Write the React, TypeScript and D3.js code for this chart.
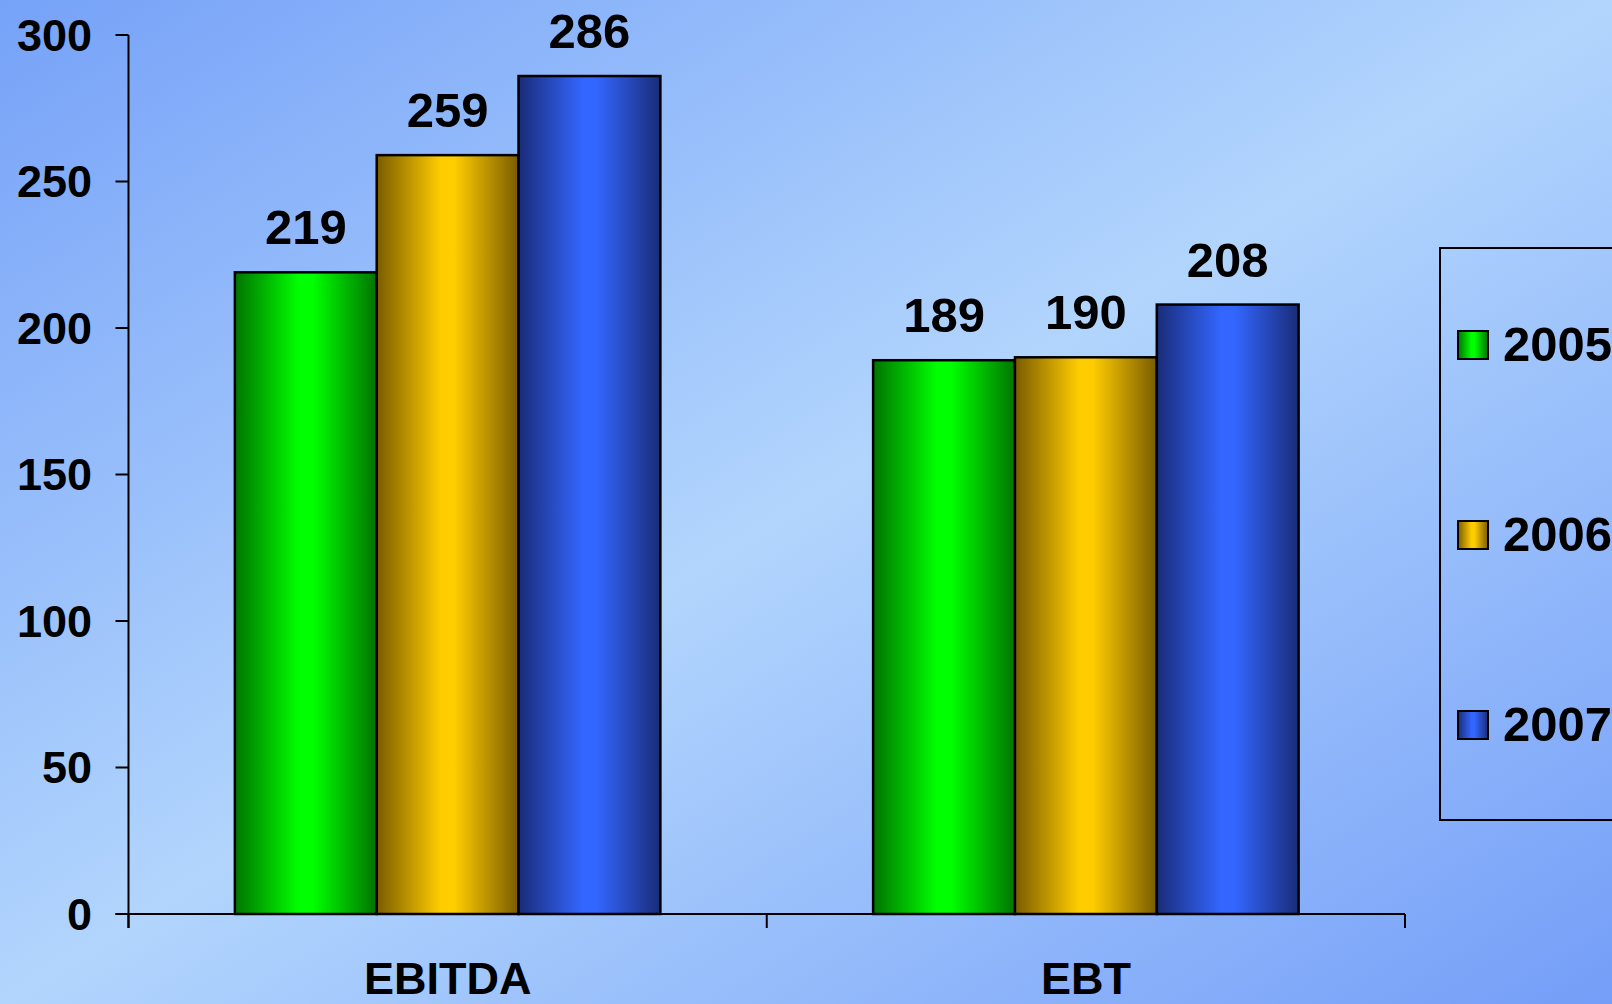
import React from "react";
import * as d3 from "d3";

const categories = ["EBITDA", "EBT"];
const seriesNames = ["2005", "2006", "2007"];
const values2005 = [219, 189];
const values2006 = [259, 190];
const values2007 = [286, 208];
const yTicks = [0, 50, 100, 150, 200, 250, 300];

const W = 1612;
const H = 1004;
const FONT = "'Liberation Sans', Arial, sans-serif";

const gradients = [
  { id: "g2005", dark: "#007400", bright: "#00ff00" },
  { id: "g2006", dark: "#7a5c00", bright: "#ffcc00" },
  { id: "g2007", dark: "#1a2c78", bright: "#3366ff" },
];

export default function App() {
  const seriesValues = [values2005, values2006, values2007];
  const x = d3.scaleBand<string>().domain(categories).range([128.5, 1405]).paddingInner(0).paddingOuter(0);
  const bw = x.bandwidth();
  const xs = d3.scaleBand<string>().domain(seriesNames).range([bw / 6, (bw * 5) / 6]).padding(0);
  const y = d3.scaleLinear().domain([0, 300]).range([914, 35]);
  const axisX = 128.5;
  const legendRows = d3.scalePoint<string>().domain(seriesNames).range([345, 725]);

  return (
    <svg width={W} height={H} style={{ position: "fixed", left: 0, top: 0, display: "block" }} fontFamily={FONT}>
      <defs>
        <linearGradient id="bg" x1="0" y1="0" x2="1" y2="1">
          <stop offset="0" stopColor="#76a2f8" />
          <stop offset="0.5" stopColor="#b2d5fd" />
          <stop offset="1" stopColor="#749ef8" />
        </linearGradient>
        {gradients.map((g) => (
          <linearGradient key={g.id} id={g.id} x1="0" y1="0" x2="1" y2="0">
            <stop offset="0" stopColor={g.dark} />
            <stop offset="0.45" stopColor={g.bright} />
            <stop offset="0.55" stopColor={g.bright} />
            <stop offset="1" stopColor={g.dark} />
          </linearGradient>
        ))}
      </defs>
      <rect x={0} y={0} width={W} height={H} fill="url(#bg)" />

      {/* bars */}
      {categories.map((c, ci) => (
        <g key={c} transform={`translate(${x(c)},0)`}>
          {seriesNames.map((s, si) => {
            const v = seriesValues[si][ci];
            const bx = xs(s) as number;
            const w = xs.bandwidth();
            return (
              <g key={s}>
                <rect x={bx} y={y(v)} width={w} height={y(0) - y(v)} fill={`url(#${gradients[si].id})`} stroke="#000" strokeWidth={2.5} />
                <text x={bx + w / 2} y={y(v) - 28} textAnchor="middle" fontSize={49} fontWeight="bold" fill="#000">
                  {v}
                </text>
              </g>
            );
          })}
        </g>
      ))}

      {/* y axis */}
      <line x1={axisX} y1={y(300)} x2={axisX} y2={y(0) + 14} stroke="#000" strokeWidth={2} />
      {yTicks.map((t) => (
        <g key={t}>
          <line x1={axisX - 13} y1={y(t)} x2={axisX} y2={y(t)} stroke="#000" strokeWidth={2} />
          <text x={92} y={y(t) + 15.5} textAnchor="end" fontSize={45} fontWeight="bold" fill="#000">
            {t}
          </text>
        </g>
      ))}

      {/* x axis */}
      <line x1={axisX - 13} y1={y(0)} x2={1405} y2={y(0)} stroke="#000" strokeWidth={2} />
      {[...categories.map((c) => x(c) as number), 1405].map((px, i) => (
        <line key={i} x1={px} y1={y(0)} x2={px} y2={y(0) + 14} stroke="#000" strokeWidth={2} />
      ))}
      {categories.map((c) => (
        <text key={c} x={(x(c) as number) + bw / 2} y={994} textAnchor="middle" fontSize={45} fontWeight="bold" fill="#000">
          {c}
        </text>
      ))}

      {/* legend */}
      <rect x={1440} y={248} width={240} height={572} fill="none" stroke="#000" strokeWidth={2} />
      {seriesNames.map((s, si) => {
        const cy = legendRows(s) as number;
        return (
          <g key={s}>
            <rect x={1458} y={cy - 14} width={30} height={28} fill={`url(#${gradients[si].id})`} stroke="#000" strokeWidth={2} />
            <text x={1503} y={cy + 16} fontSize={49} fontWeight="bold" fill="#000">
              {s}
            </text>
          </g>
        );
      })}
    </svg>
  );
}
